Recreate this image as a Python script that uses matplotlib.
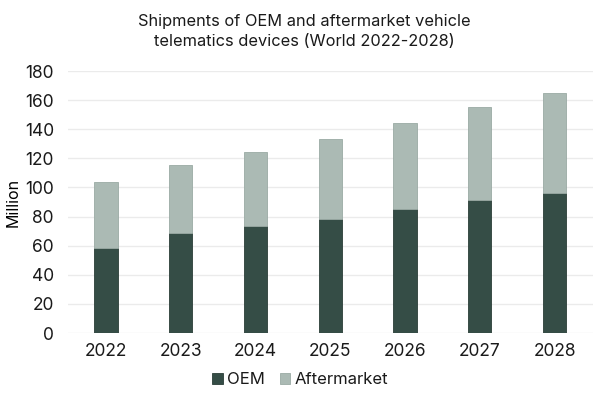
import matplotlib

matplotlib.use("Agg")
import matplotlib.pyplot as plt
import numpy as np

YEARS = ["2022", "2023", "2024", "2025", "2026", "2027", "2028"]
OEM = [58.5, 68.5, 73.5, 78.0, 85.0, 91.5, 96.0]
AFTERMARKET = [45.0, 47.0, 51.0, 55.0, 59.5, 64.0, 69.0]

OEM_COLOR = "#354d46"
AFTER_COLOR = "#abbab4"
TEXT_COLOR = "#1a1a1a"

plt.rcParams.update({
    "font.family": ["Inter", "DejaVu Sans"],
    "font.size": 12,
    "text.color": TEXT_COLOR,
})

fig = plt.figure(figsize=(6, 4), dpi=100)
ax = fig.add_axes([0.113, 0.1675, 0.875, 0.655])

x = np.arange(len(YEARS))
w = 0.31
ax.bar(x, OEM, width=w, color=OEM_COLOR, edgecolor="#2a3d37", linewidth=0.6,
       label="OEM", zorder=3)
ax.bar(x, AFTERMARKET, width=w, bottom=OEM, color=AFTER_COLOR,
       edgecolor="#9aaaa4", linewidth=0.6, label="Aftermarket", zorder=3)

ax.set_xlim(-0.51, len(YEARS) - 0.49)
ax.set_ylim(0, 180)
ax.set_yticks(np.arange(0, 181, 20))
ax.set_xticks(x)
ax.set_xticklabels(YEARS)
ax.grid(axis="y", color="#ebebeb", linewidth=1.0, zorder=0)
for s in ax.spines.values():
    s.set_visible(False)
ax.tick_params(axis="both", length=0, labelsize=12.5, colors=TEXT_COLOR)
ax.tick_params(axis="x", pad=7)
ax.tick_params(axis="y", pad=10)
ax.set_ylabel("Million", fontsize=11.5, labelpad=3)

fig.suptitle("Shipments of OEM and aftermarket vehicle\ntelematics devices (World 2022-2028)",
             x=0.508, y=0.965, fontsize=11.8, linespacing=1.45)

fig.legend(loc="lower center", bbox_to_anchor=(0.5, -0.005), ncol=2, frameon=False,
           handlelength=0.65, handleheight=0.65, handletextpad=0.25, columnspacing=0.9,
           fontsize=12)

fig.savefig("out.png", dpi=100)
